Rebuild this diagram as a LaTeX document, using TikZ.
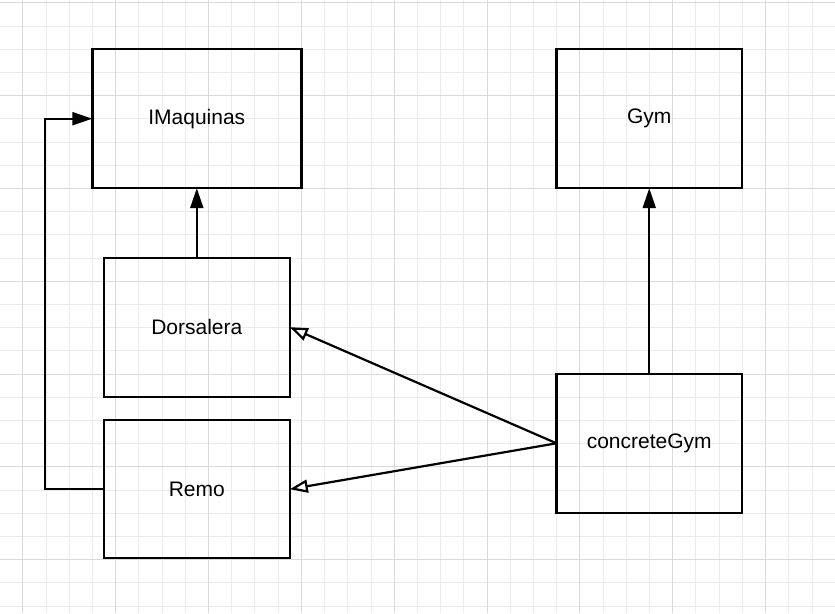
\documentclass[tikz,border=0pt]{standalone}
\usepackage{fontspec}
\setmainfont{Liberation Sans}
\usetikzlibrary{positioning}
\usetikzlibrary{arrows.meta}

\begin{document}
\begin{tikzpicture}[x=1pt,y=-1pt,thick,
	class node/.style={rectangle,draw,line width=2.4pt,outer sep=0pt,inner sep=0pt,minimum width=186pt,minimum height=139pt,font=\fontsize{21}{25}\selectfont},
	uses/.style={-{Triangle[length=20pt,width=13pt]},line width=2.2pt},
	realizes/.style={-{Triangle[open,length=18pt,width=13pt,fill=white]},line width=2.2pt},
	minor line/.style={draw=black!8,line width=1pt},
	major line/.style={draw=black!15,line width=1pt}]

	\useasboundingbox (0,0) rectangle (835,613);
	\fill[white] (0,0) rectangle (835,613);
	% background grid
	\draw[minor line] \foreach \k in {0,...,36} {(-0.35+23.21*\k,0) -- (-0.35+23.21*\k,613)};
	\draw[minor line] \foreach \k in {0,...,26} {(0,2.9+23.2*\k) -- (835,2.9+23.2*\k)};
	\draw[major line] \foreach \k in {0,...,8} {(22.86+92.84*\k,0) -- (22.86+92.84*\k,613)};
	\draw[major line] \foreach \k in {0,...,6} {(0,2.9+92.8*\k) -- (835,2.9+92.8*\k)};

	\node[class node,minimum width=209pt] (imaquinas) at (196.8,118.7) {IMaquinas};
	\node[class node,minimum width=185.5pt] (gym) [right=255.2pt of imaquinas] {Gym};
	\node[class node] (dorsalera) [below=69.5pt of imaquinas] {Dorsalera};
	\node[class node,minimum height=138pt] (remo) [below=23.5pt of dorsalera] {Remo};
	\node[class node,minimum width=185.5pt] (concretegym) [below=185.6pt of gym] {concreteGym};

	\draw[uses] (dorsalera) -- (imaquinas);
	\draw[uses] (concretegym) -- (gym);
	\draw[uses] (remo.west) -- ++(-59,0) |- (imaquinas.west);
	\draw[realizes] (concretegym.west) -- (dorsalera.east);
	\draw[realizes] (concretegym.west) -- (remo.east);
\end{tikzpicture}
\end{document}
